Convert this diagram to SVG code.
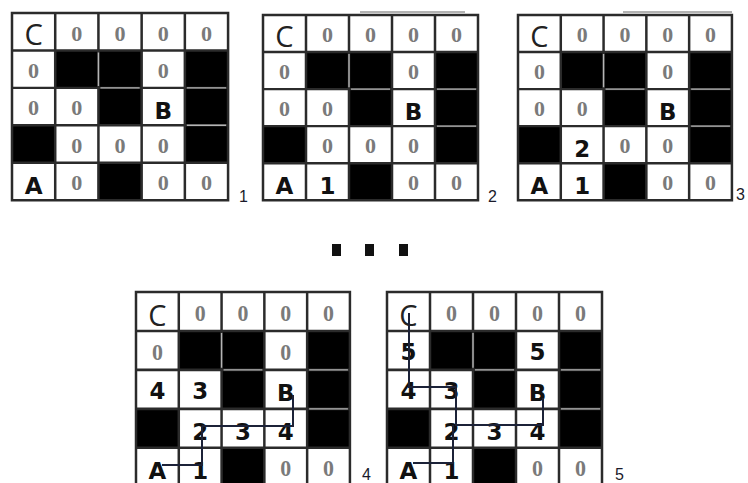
<svg xmlns="http://www.w3.org/2000/svg" width="748" height="483" viewBox="0 0 748 483">
<style>
.z{font-family:"Liberation Serif",serif;font-size:22px;font-weight:bold;fill:#7a7a7a;text-anchor:middle}
.b{font-family:"DejaVu Sans",sans-serif;font-size:23px;font-weight:bold;fill:#111;text-anchor:middle}
.c{font-family:"Open Sans",sans-serif;font-size:29px;fill:#222;text-anchor:middle}
.lbl{font-family:"Liberation Sans",sans-serif;font-size:16px;fill:#1a1a2a}
.gl{stroke:#2b2b2b;stroke-width:2.5;fill:none}
.sep{stroke:#b5b5b5;stroke-width:1.4;fill:none}
.pth{stroke:#1c2238;stroke-width:2;fill:none}
.stray{stroke:#666;stroke-width:1;fill:none}
</style>
<defs>
<g id="grid">
<rect width="215" height="190" fill="#fff"/>
<g fill="#000">
<rect x="43" y="38" width="43" height="38"/>
<rect x="86" y="38" width="43" height="38"/>
<rect x="172" y="38" width="43" height="38"/>
<rect x="86" y="76" width="43" height="38"/>
<rect x="172" y="76" width="43" height="38"/>
<rect x="0" y="114" width="43" height="38"/>
<rect x="172" y="114" width="43" height="38"/>
<rect x="86" y="152" width="43" height="38"/>
</g>
<path class="gl" d="M0 0H215V190H0Z M43 0V190 M86 0V190 M129 0V190 M172 0V190 M0 38H215 M0 76H215 M0 114H215 M0 152H215"/>
<path class="sep" d="M86 40V74 M88 76H127 M174 76H213 M174 114H213"/>
</g>
</defs>
<rect width="748" height="483" fill="#fff"/>

<g id="grid1">
<g transform="translate(12,13) scale(1.005,0.985)">
<use href="#grid"/>
<text class="c" x="21.5" y="33">C</text>
<text class="z" x="64.5" y="28">0</text><text class="z" x="107.5" y="28">0</text><text class="z" x="150.5" y="28">0</text><text class="z" x="193.5" y="28">0</text>
<text class="z" x="21.5" y="66">0</text><text class="z" x="150.5" y="66">0</text>
<text class="z" x="21.5" y="104">0</text><text class="z" x="64.5" y="104">0</text><text class="b" x="150.5" y="108">B</text>
<text class="z" x="64.5" y="142">0</text><text class="z" x="107.5" y="142">0</text><text class="z" x="150.5" y="142">0</text>
<text class="b" x="21.5" y="184">A</text><text class="z" x="64.5" y="180">0</text><text class="z" x="150.5" y="180">0</text><text class="z" x="193.5" y="180">0</text>
</g>
<text class="lbl" x="239" y="202">1</text>
</g>

<g id="grid2">
<g transform="translate(263,15) scale(1,0.975)">
<use href="#grid"/>
<text class="c" x="21.5" y="33">C</text>
<text class="z" x="64.5" y="28">0</text><text class="z" x="107.5" y="28">0</text><text class="z" x="150.5" y="28">0</text><text class="z" x="193.5" y="28">0</text>
<text class="z" x="21.5" y="66">0</text><text class="z" x="150.5" y="66">0</text>
<text class="z" x="21.5" y="104">0</text><text class="z" x="64.5" y="104">0</text><text class="b" x="150.5" y="108">B</text>
<text class="z" x="64.5" y="142">0</text><text class="z" x="107.5" y="142">0</text><text class="z" x="150.5" y="142">0</text>
<text class="b" x="21.5" y="184">A</text><text class="b" x="64.5" y="184">1</text><text class="z" x="150.5" y="180">0</text><text class="z" x="193.5" y="180">0</text>
</g>
<path class="stray" d="M360 12H465"/>
<text class="lbl" x="488" y="202">2</text>
</g>

<g id="grid3">
<g transform="translate(518,15) scale(0.995,0.975)">
<use href="#grid"/>
<text class="c" x="21.5" y="33">C</text>
<text class="z" x="64.5" y="28">0</text><text class="z" x="107.5" y="28">0</text><text class="z" x="150.5" y="28">0</text><text class="z" x="193.5" y="28">0</text>
<text class="z" x="21.5" y="66">0</text><text class="z" x="150.5" y="66">0</text>
<text class="z" x="21.5" y="104">0</text><text class="z" x="64.5" y="104">0</text><text class="b" x="150.5" y="108">B</text>
<text class="b" x="64.5" y="146">2</text><text class="z" x="107.5" y="142">0</text><text class="z" x="150.5" y="142">0</text>
<text class="b" x="21.5" y="184">A</text><text class="b" x="64.5" y="184">1</text><text class="z" x="150.5" y="180">0</text><text class="z" x="193.5" y="180">0</text>
</g>
<path class="stray" d="M623 12H732"/>
<text class="lbl" x="736" y="200">3</text>
</g>

<g id="dots" fill="#111">
<rect x="332" y="244" width="9" height="12"/>
<rect x="365" y="244" width="9" height="12"/>
<rect x="399" y="244" width="9" height="12"/>
</g>

<g id="grid4">
<g transform="translate(136,292) scale(0.995,1.025)">
<use href="#grid"/>
<text class="c" x="21.5" y="33">C</text>
<text class="z" x="64.5" y="28">0</text><text class="z" x="107.5" y="28">0</text><text class="z" x="150.5" y="28">0</text><text class="z" x="193.5" y="28">0</text>
<text class="z" x="21.5" y="66">0</text><text class="z" x="150.5" y="66">0</text>
<text class="b" x="21.5" y="104">4</text><text class="b" x="64.5" y="104">3</text><text class="b" x="150.5" y="106">B</text>
<text class="b" x="64.5" y="144">2</text><text class="b" x="107.5" y="144">3</text><text class="b" x="150.5" y="144">4</text>
<text class="b" x="21.5" y="182">A</text><text class="b" x="64.5" y="182">1</text><text class="z" x="150.5" y="180">0</text><text class="z" x="193.5" y="180">0</text>
</g>
<text class="lbl" x="362" y="480">4</text>
</g>

<g id="grid5">
<g transform="translate(387,292) scale(1,1.025)">
<use href="#grid"/>
<text class="c" x="21.5" y="33">C</text>
<text class="z" x="64.5" y="28">0</text><text class="z" x="107.5" y="28">0</text><text class="z" x="150.5" y="28">0</text><text class="z" x="193.5" y="28">0</text>
<text class="b" x="21.5" y="66">5</text><text class="b" x="150.5" y="66">5</text>
<text class="b" x="21.5" y="104">4</text><text class="b" x="64.5" y="104">3</text><text class="b" x="150.5" y="106">B</text>
<text class="b" x="64.5" y="144">2</text><text class="b" x="107.5" y="144">3</text><text class="b" x="150.5" y="144">4</text>
<text class="b" x="21.5" y="182">A</text><text class="b" x="64.5" y="182">1</text><text class="z" x="150.5" y="180">0</text><text class="z" x="193.5" y="180">0</text>
</g>
<text class="lbl" x="615" y="480">5</text>
</g>

<g id="connectors">
<path class="pth" d="M162 465H203 M202 465V426 M202 426H293V395"/>
<path class="pth" d="M409 313V387H456V425H543V398 M453 425V464 M413 463H453"/>
</g>
</svg>
